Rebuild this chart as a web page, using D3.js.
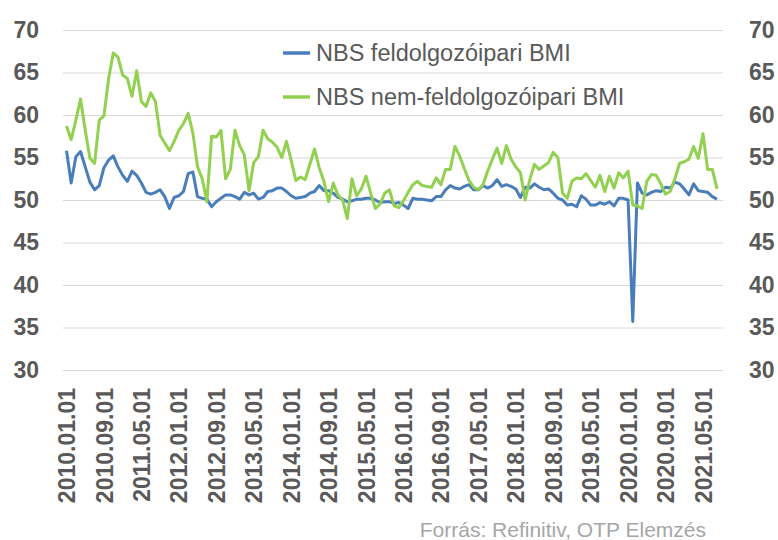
<!DOCTYPE html>
<html>
<head>
<meta charset="utf-8">
<script src="https://cdn.jsdelivr.net/npm/d3@7"></script>
<style>
  body { margin: 0; background: #fff; }
  text { font-family: "Liberation Sans", Arial, sans-serif; }
</style>
</head>
<body>
<div id="chart"></div>
<script>
// NBS PMI, monthly, 2010.01 - 2021.08
const manufacturing = [
  55.8, 52.0, 55.1, 55.7, 53.9, 52.1, 51.2, 51.7, 53.8, 54.7, 55.2, 53.9,
  52.9, 52.2, 53.4, 52.9, 52.0, 50.9, 50.7, 50.9, 51.2, 50.4, 49.0, 50.3,
  50.5, 51.0, 53.1, 53.3, 50.4, 50.2, 50.1, 49.2, 49.8, 50.2, 50.6, 50.6,
  50.4, 50.1, 50.9, 50.6, 50.8, 50.1, 50.3, 51.0, 51.1, 51.4, 51.4, 51.0,
  50.5, 50.2, 50.3, 50.4, 50.8, 51.0, 51.7, 51.1, 51.1, 50.8, 50.3, 50.1,
  49.8, 49.9, 50.1, 50.1, 50.2, 50.2, 50.0, 49.7, 49.8, 49.8, 49.6, 49.7,
  49.4, 49.0, 50.2, 50.1, 50.1, 50.0, 49.9, 50.4, 50.4, 51.2, 51.7, 51.4,
  51.3, 51.6, 51.8, 51.2, 51.2, 51.7, 51.4, 51.7, 52.4, 51.6, 51.8, 51.6,
  51.3, 50.3, 51.5, 51.4, 51.9, 51.5, 51.2, 51.3, 50.8, 50.2, 50.0, 49.4,
  49.5, 49.2, 50.5, 50.1, 49.4, 49.4, 49.7, 49.5, 49.8, 49.3, 50.2, 50.2,
  50.0, 35.7, 52.0, 50.8, 50.6, 50.9, 51.1, 51.0, 51.5, 51.4, 52.1, 51.9,
  51.3, 50.6, 51.9, 51.1, 51.0, 50.9, 50.4, 50.1
];
const nonManufacturing = [
  58.7, 57.1, 59.4, 61.9, 58.2, 54.9, 54.3, 59.4, 59.9, 64.3, 67.3, 66.8,
  64.7, 64.3, 62.2, 65.2, 61.6, 61.0, 62.6, 61.6, 57.6, 56.7, 55.8, 56.9,
  58.2, 59.0, 60.2, 57.9, 53.9, 52.5, 49.8, 57.5, 57.4, 58.2, 52.5, 53.6,
  58.2, 56.4, 55.3, 51.1, 54.4, 55.1, 58.2, 57.2, 56.8, 56.2, 55.0, 56.9,
  54.7, 52.3, 52.7, 52.4, 54.2, 56.0, 53.8, 52.2, 49.8, 52.0, 50.6, 50.0,
  47.8, 52.5, 50.5, 51.3, 52.8, 50.8, 49.0, 49.5, 50.8, 51.2, 49.3, 49.1,
  49.9, 50.9, 51.8, 52.2, 51.7, 51.6, 51.5, 52.6, 51.8, 53.6, 53.6, 56.3,
  55.2, 53.7, 52.3, 51.5, 51.2, 51.8, 53.4, 54.8, 56.1, 54.3, 56.4, 54.8,
  53.9, 53.2, 50.0, 52.4, 54.2, 53.6, 54.0, 54.4, 55.6, 55.0, 50.8, 50.2,
  52.2, 52.6, 52.5, 53.1, 52.3, 51.5, 52.9, 51.0, 52.8, 51.4, 53.2, 52.6,
  53.4, 49.4, 49.3, 49.0, 52.2, 53.0, 52.9, 51.9, 50.7, 51.0, 52.5, 54.3,
  54.5, 54.8, 56.3, 54.9, 57.8, 53.6, 53.6, 51.3
];
const seriesNames = ["NBS feldolgozóipari BMI", "NBS nem-feldolgozóipari BMI"];
const seriesColors = ["#4a7ebb", "#92d050"];
const tickIndex = [0, 8, 16, 24, 32, 40, 48, 56, 64, 72, 80, 88, 96, 104, 112, 120, 128, 136];
const tickLabels = [
  "2010.01.01", "2010.09.01", "2011.05.01", "2012.01.01", "2012.09.01", "2013.05.01",
  "2014.01.01", "2014.09.01", "2015.05.01", "2016.01.01", "2016.09.01", "2017.05.01",
  "2018.01.01", "2018.09.01", "2019.05.01", "2020.01.01", "2020.09.01", "2021.05.01"
];
const yTicks = [30, 35, 40, 45, 50, 55, 60, 65, 70];

const W = 778, H = 540;
const margin = {top: 30, right: 55, bottom: 170, left: 63};
const width = W - margin.left - margin.right;
const height = H - margin.top - margin.bottom;

const svg = d3.select("#chart").append("svg")
    .attr("width", W)
    .attr("height", H)
  .append("g")
    .attr("transform", `translate(${margin.left}, ${margin.top})`);

const x = d3.scaleLinear().domain([0, manufacturing.length - 1]).range([3.5, 654]);
const y = d3.scaleLinear().domain([30, 70]).range([height, 0]);

// gridlines
const grid = svg.append("g")
    .call(d3.axisLeft(y).tickValues(yTicks).tickSize(-width).tickFormat(""));
grid.select(".domain").remove();
grid.selectAll("line").attr("stroke", "#d9d9d9").attr("stroke-width", 1);

function styleAxisText(g) {
  g.select(".domain").remove();
  g.selectAll("text")
      .attr("fill", "#595959")
      .style("font-size", "23px")
      .style("font-weight", "bold");
}

svg.append("g")
    .call(d3.axisLeft(y).tickValues(yTicks).tickSize(0).tickPadding(24))
    .call(styleAxisText);

svg.append("g")
    .attr("transform", `translate(${width}, 0)`)
    .call(d3.axisRight(y).tickValues(yTicks).tickSize(0).tickPadding(26))
    .call(styleAxisText);

svg.append("g")
    .attr("transform", `translate(0, ${height})`)
    .call(d3.axisBottom(x).tickValues(tickIndex).tickSize(0)
      .tickFormat((d, i) => tickLabels[i]))
    .call(styleAxisText)
    .selectAll("text")
      .attr("transform", "rotate(-90)")
      .attr("x", -18)
      .attr("y", 0)
      .attr("dy", "0.35em")
      .style("text-anchor", "end");

const line = d3.line()
    .x((d, i) => x(i))
    .y(d => y(d));

[manufacturing, nonManufacturing].forEach((data, k) => {
  svg.append("path")
      .datum(data)
      .attr("fill", "none")
      .attr("stroke", seriesColors[k])
      .attr("stroke-width", 3)
      .attr("stroke-linejoin", "round")
      .attr("d", line);
});

// legend
const legend = svg.append("g").attr("transform", "translate(220, 23)");
seriesNames.forEach((name, k) => {
  legend.append("line")
      .attr("x1", 0).attr("x2", 27)
      .attr("y1", k * 44).attr("y2", k * 44)
      .attr("stroke", seriesColors[k])
      .attr("stroke-width", 3.5);
  legend.append("text")
      .attr("x", 33)
      .attr("y", k * 44)
      .attr("dy", "0.35em")
      .attr("fill", "#595959")
      .style("font-size", "23.5px")
      .text(name);
});

svg.append("text")
    .attr("x", 706 - margin.left)
    .attr("y", 537 - margin.top)
    .attr("text-anchor", "end")
    .attr("fill", "#a6a6a6")
    .style("font-size", "21px")
    .text("Forrás: Refinitiv, OTP Elemzés");
</script>
</body>
</html>
